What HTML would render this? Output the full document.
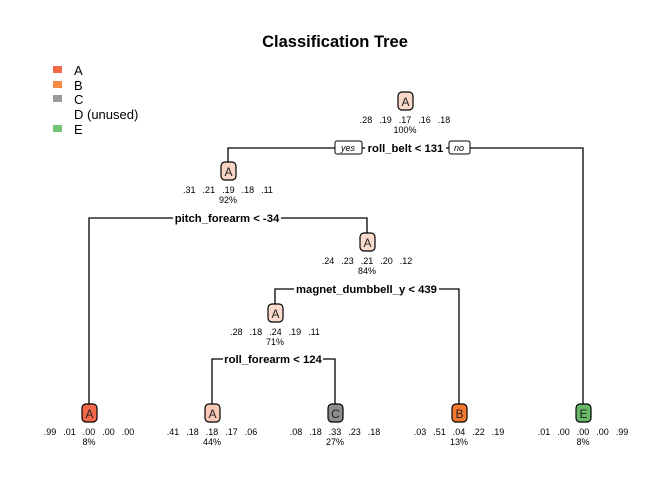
<!DOCTYPE html>
<html><head><style>html,body{margin:0;padding:0;background:#fff}svg{display:block}.v{word-spacing:4.5px}</style></head>
<body>
<svg width="672" height="480" viewBox="0 0 672 480" xmlns="http://www.w3.org/2000/svg" font-family="Liberation Sans, Arial, sans-serif">
<rect width="672" height="480" fill="#fff"/>
<text x="335" y="47" font-size="16.5" font-weight="bold" text-anchor="middle">Classification Tree</text>
<g font-size="13">
<rect x="53" y="66" width="9" height="7" fill="#f4694a"/><text x="74" y="75">A</text>
<rect x="53" y="81" width="9" height="7" fill="#f58a45"/><text x="74" y="90">B</text>
<rect x="53" y="95" width="9" height="7" fill="#9a9a9a"/><text x="74" y="104">C</text>
<text x="74" y="119">D (unused)</text>
<rect x="53" y="125" width="9" height="7" fill="#74c476"/><text x="74" y="134">E</text>
</g>
<g stroke="#000" stroke-width="1.3" fill="none">
<polyline points="228,162 228,148 335,148"/>
<polyline points="470,148 583,148 583,404"/>
<line x1="362" y1="148" x2="365" y2="148"/>
<line x1="446" y1="148" x2="449" y2="148"/>
<polyline points="89,404 89,218 173,218"/>
<polyline points="281,218 367,218 367,233"/>
<polyline points="275,304 275,289 294,289"/>
<polyline points="439,289 459,289 459,404"/>
<polyline points="212,404 212,359 223,359"/>
<polyline points="323,359 335,359 335,404"/>
</g>
<g font-size="11.3" font-weight="bold" text-anchor="middle">
<text x="405.5" y="152">roll_belt &lt; 131</text>
<text x="227" y="222">pitch_forearm &lt; -34</text>
<text x="366.5" y="293">magnet_dumbbell_y &lt; 439</text>
<text x="273" y="363">roll_forearm &lt; 124</text>
</g>
<g stroke="#000" stroke-width="1">
<rect x="335" y="141" width="27" height="13" rx="2" fill="#fff"/>
<rect x="449" y="141" width="21" height="13" rx="2" fill="#fff"/>
</g>
<g font-size="9" font-style="italic" text-anchor="middle">
<text x="348" y="151">yes</text><text x="459" y="151">no</text>
</g>
<g stroke="#000" stroke-width="1.2">
<rect x="398" y="92" width="15" height="18" rx="4" fill="#f9d8ca"/>
<rect x="221" y="162" width="15" height="18" rx="4" fill="#f9d4c4"/>
<rect x="360" y="233" width="15" height="18" rx="4" fill="#fadbce"/>
<rect x="268" y="304" width="15" height="18" rx="4" fill="#fadbcd"/>
<rect x="82" y="404" width="15" height="18" rx="4" fill="#f4694a"/>
<rect x="205" y="404" width="15" height="18" rx="4" fill="#f8c8b5"/>
<rect x="328" y="404" width="15" height="18" rx="4" fill="#8e8e8e"/>
<rect x="452" y="404" width="15" height="18" rx="4" fill="#f57a2e"/>
<rect x="576" y="404" width="15" height="18" rx="4" fill="#6ab96a"/>
</g>
<g font-size="12" text-anchor="middle" fill="#222">
<text x="405.5" y="106">A</text><text x="228.5" y="176">A</text><text x="367.5" y="247">A</text>
<text x="275.5" y="318">A</text><text x="89.5" y="418">A</text><text x="212.5" y="418">A</text>
<text x="335.5" y="418">C</text><text x="459.5" y="418">B</text><text x="583.5" y="418">E</text>
</g>
<g font-size="9" text-anchor="middle" fill="#000">
<text class="v" x="405" y="123">.28 .19 .17 .16 .18</text><text x="405" y="133">100%</text>
<text class="v" x="228" y="193">.31 .21 .19 .18 .11</text><text x="228" y="203">92%</text>
<text class="v" x="367" y="264">.24 .23 .21 .20 .12</text><text x="367" y="274">84%</text>
<text class="v" x="275" y="335">.28 .18 .24 .19 .11</text><text x="275" y="345">71%</text>
<text class="v" x="89" y="435">.99 .01 .00 .00 .00</text><text x="89" y="445">8%</text>
<text class="v" x="212" y="435">.41 .18 .18 .17 .06</text><text x="212" y="445">44%</text>
<text class="v" x="335" y="435">.08 .18 .33 .23 .18</text><text x="335" y="445">27%</text>
<text class="v" x="459" y="435">.03 .51 .04 .22 .19</text><text x="459" y="445">13%</text>
<text class="v" x="583" y="435">.01 .00 .00 .00 .99</text><text x="583" y="445">8%</text>
</g>
</svg>
</body></html>
